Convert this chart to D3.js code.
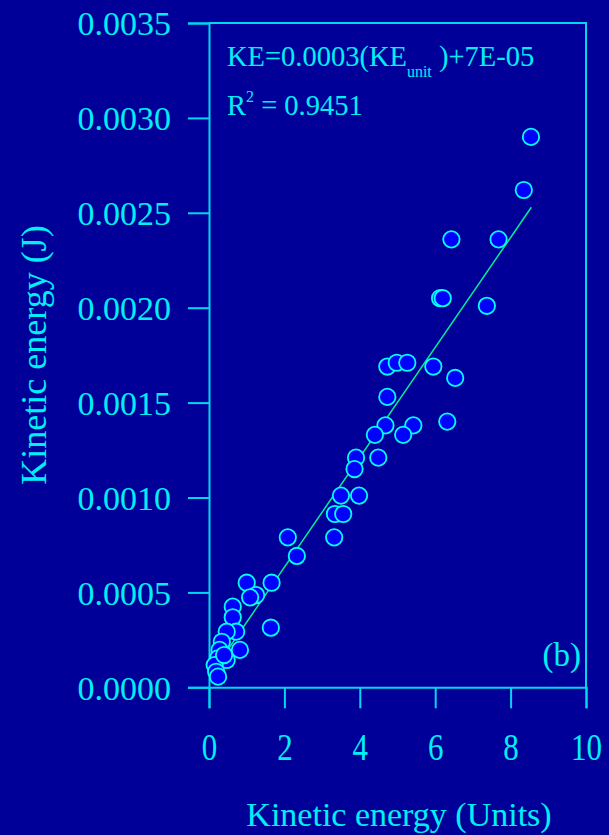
<!DOCTYPE html>
<html>
<head>
<meta charset="utf-8">
<script src="https://cdn.jsdelivr.net/npm/d3@7"></script>
<style>
  body { margin: 0; background: #000099; }
  svg text { font-family: "Liberation Serif", "Times New Roman", serif; }
</style>
</head>
<body>
<div id="chart"></div>
<script>
// Data
var ke_units = [8.54, 8.35, 6.43, 7.68, 6.13, 6.20, 7.37, 4.73, 4.98, 5.26,
                5.95, 6.53, 4.73, 4.68, 5.42, 6.32, 4.40, 5.15, 3.90, 4.49,
                3.86, 3.50, 3.98, 3.34, 3.56, 3.32, 2.09, 2.33, 1.00, 1.66,
                1.25, 1.09, 0.63, 0.63, 1.64, 0.72, 0.47, 0.82, 0.34, 0.28,
                0.24, 0.47, 0.15, 0.19, 0.24, 0.40];
var ke_joules = [0.00290, 0.00262, 0.00236, 0.00236, 0.00205, 0.00205, 0.00201, 0.00169, 0.00171, 0.00171,
                 0.00169, 0.00163, 0.00153, 0.00138, 0.00138, 0.00140, 0.00133, 0.00133, 0.00121, 0.00121,
                 0.00115, 0.00101, 0.00101, 0.000913, 0.000913, 0.000790, 0.000790, 0.000692, 0.000551, 0.000551,
                 0.000486, 0.000474, 0.000425, 0.000369, 0.000314, 0.000293, 0.000293, 0.000197, 0.000240, 0.000197,
                 0.000153, 0.000144, 0.000117, 0.000082, 0.000056, 0.000170];

// fitted trend line (as drawn)
var fit_slope = 0.0002895;
var fit_intercept = 0.0000538;
var fit_range = [0.15, 8.55];

var x_ticks = [0, 2, 4, 6, 8, 10];
var y_ticks = [0, 0.0005, 0.0010, 0.0015, 0.0020, 0.0025, 0.0030, 0.0035];

var chart_width  = 609;
var chart_height = 835;
var cyan = '#00F0F8';
var line_cyan = '#00D8F0';

var svg = d3.select('#chart')
    .append('svg')
    .attr('width', chart_width)
    .attr('height', chart_height);

svg.append('rect')
    .attr('width', chart_width)
    .attr('height', chart_height)
    .attr('fill', '#000099');

var x = d3.scaleLinear().domain([0, 10]).range([209, 586]);
var y = d3.scaleLinear().domain([0, 0.0035]).range([687.3, 23]);

// frame (top and right)
svg.append('path')
    .attr('d', 'M' + x(0) + ',' + y(0.0035) + 'H' + x(10) + 'V' + y(0))
    .attr('fill', 'none')
    .attr('stroke', line_cyan)
    .attr('stroke-width', 2);

var x_axis = svg.append('g')
    .attr('transform', 'translate(0,' + y(0) + ')')
    .call(d3.axisBottom(x).tickValues(x_ticks).tickSize(21).tickFormat(d3.format('d')));

var y_axis = svg.append('g')
    .attr('transform', 'translate(' + x(0) + ',0)')
    .call(d3.axisLeft(y).tickValues(y_ticks).tickSize(21).tickFormat(d3.format('.4f')));

[x_axis, y_axis].forEach(function(ax){
    ax.select('.domain').attr('stroke', line_cyan).attr('stroke-width', 2);
    ax.selectAll('.tick line').attr('stroke', line_cyan).attr('stroke-width', 2);
    ax.selectAll('text')
        .attr('fill', cyan)
        .attr('font-family', '"Liberation Serif", serif');
});

x_axis.selectAll('text')
    .attr('font-size', 31)
    .attr('y', 0)
    .attr('dy', 0)
    .attr('transform', 'translate(0,73) scale(1,1.24)');

y_axis.selectAll('text')
    .attr('font-size', 34)
    .attr('x', -38)
    .attr('dy', '0.35em');

// trend line
var trend = fit_range.map(function(v){ return [v, fit_slope * v + fit_intercept]; });
svg.append('path')
    .datum(trend)
    .attr('d', d3.line()
        .x(function(d){ return x(d[0]); })
        .y(function(d){ return y(d[1]); }))
    .attr('stroke', '#00F090')
    .attr('stroke-width', 1.5)
    .attr('fill', 'none');

// points
svg.append('g')
    .selectAll('circle')
    .data(ke_units.map(function(v, i){ return [v, ke_joules[i]]; }))
    .enter()
    .append('circle')
    .attr('cx', function(d){ return x(d[0]); })
    .attr('cy', function(d){ return y(d[1]); })
    .attr('r', 8.2)
    .attr('fill', '#0000FF')
    .attr('stroke', '#00FFFF')
    .attr('stroke-width', 1.8);

// equation
var eq = svg.append('text')
    .attr('x', 227)
    .attr('y', 66)
    .attr('fill', cyan)
    .attr('font-size', 28.5);
eq.append('tspan').text('KE=0.0003(KE');
eq.append('tspan').attr('font-size', 16).attr('dy', 11).text('unit');
eq.append('tspan').attr('dy', -11).text(' )+7E-05');

var r2 = svg.append('text')
    .attr('x', 227)
    .attr('y', 115)
    .attr('fill', cyan)
    .attr('font-size', 28.5);
r2.append('tspan').text('R');
r2.append('tspan').attr('font-size', 16).attr('dy', -13).text('2');
r2.append('tspan').attr('dy', 13).text(' = 0.9451');

svg.append('text')
    .attr('x', 581)
    .attr('y', 666)
    .attr('text-anchor', 'end')
    .attr('fill', cyan)
    .attr('font-size', 33)
    .text('(b)');

// axis titles
svg.append('text')
    .attr('x', 399)
    .attr('y', 826)
    .attr('text-anchor', 'middle')
    .attr('fill', cyan)
    .attr('font-size', 34)
    .text('Kinetic energy (Units)');

svg.append('text')
    .attr('transform', 'translate(46,355) rotate(-90)')
    .attr('text-anchor', 'middle')
    .attr('fill', cyan)
    .attr('font-size', 36)
    .text('Kinetic energy (J)');
</script>
</body>
</html>
